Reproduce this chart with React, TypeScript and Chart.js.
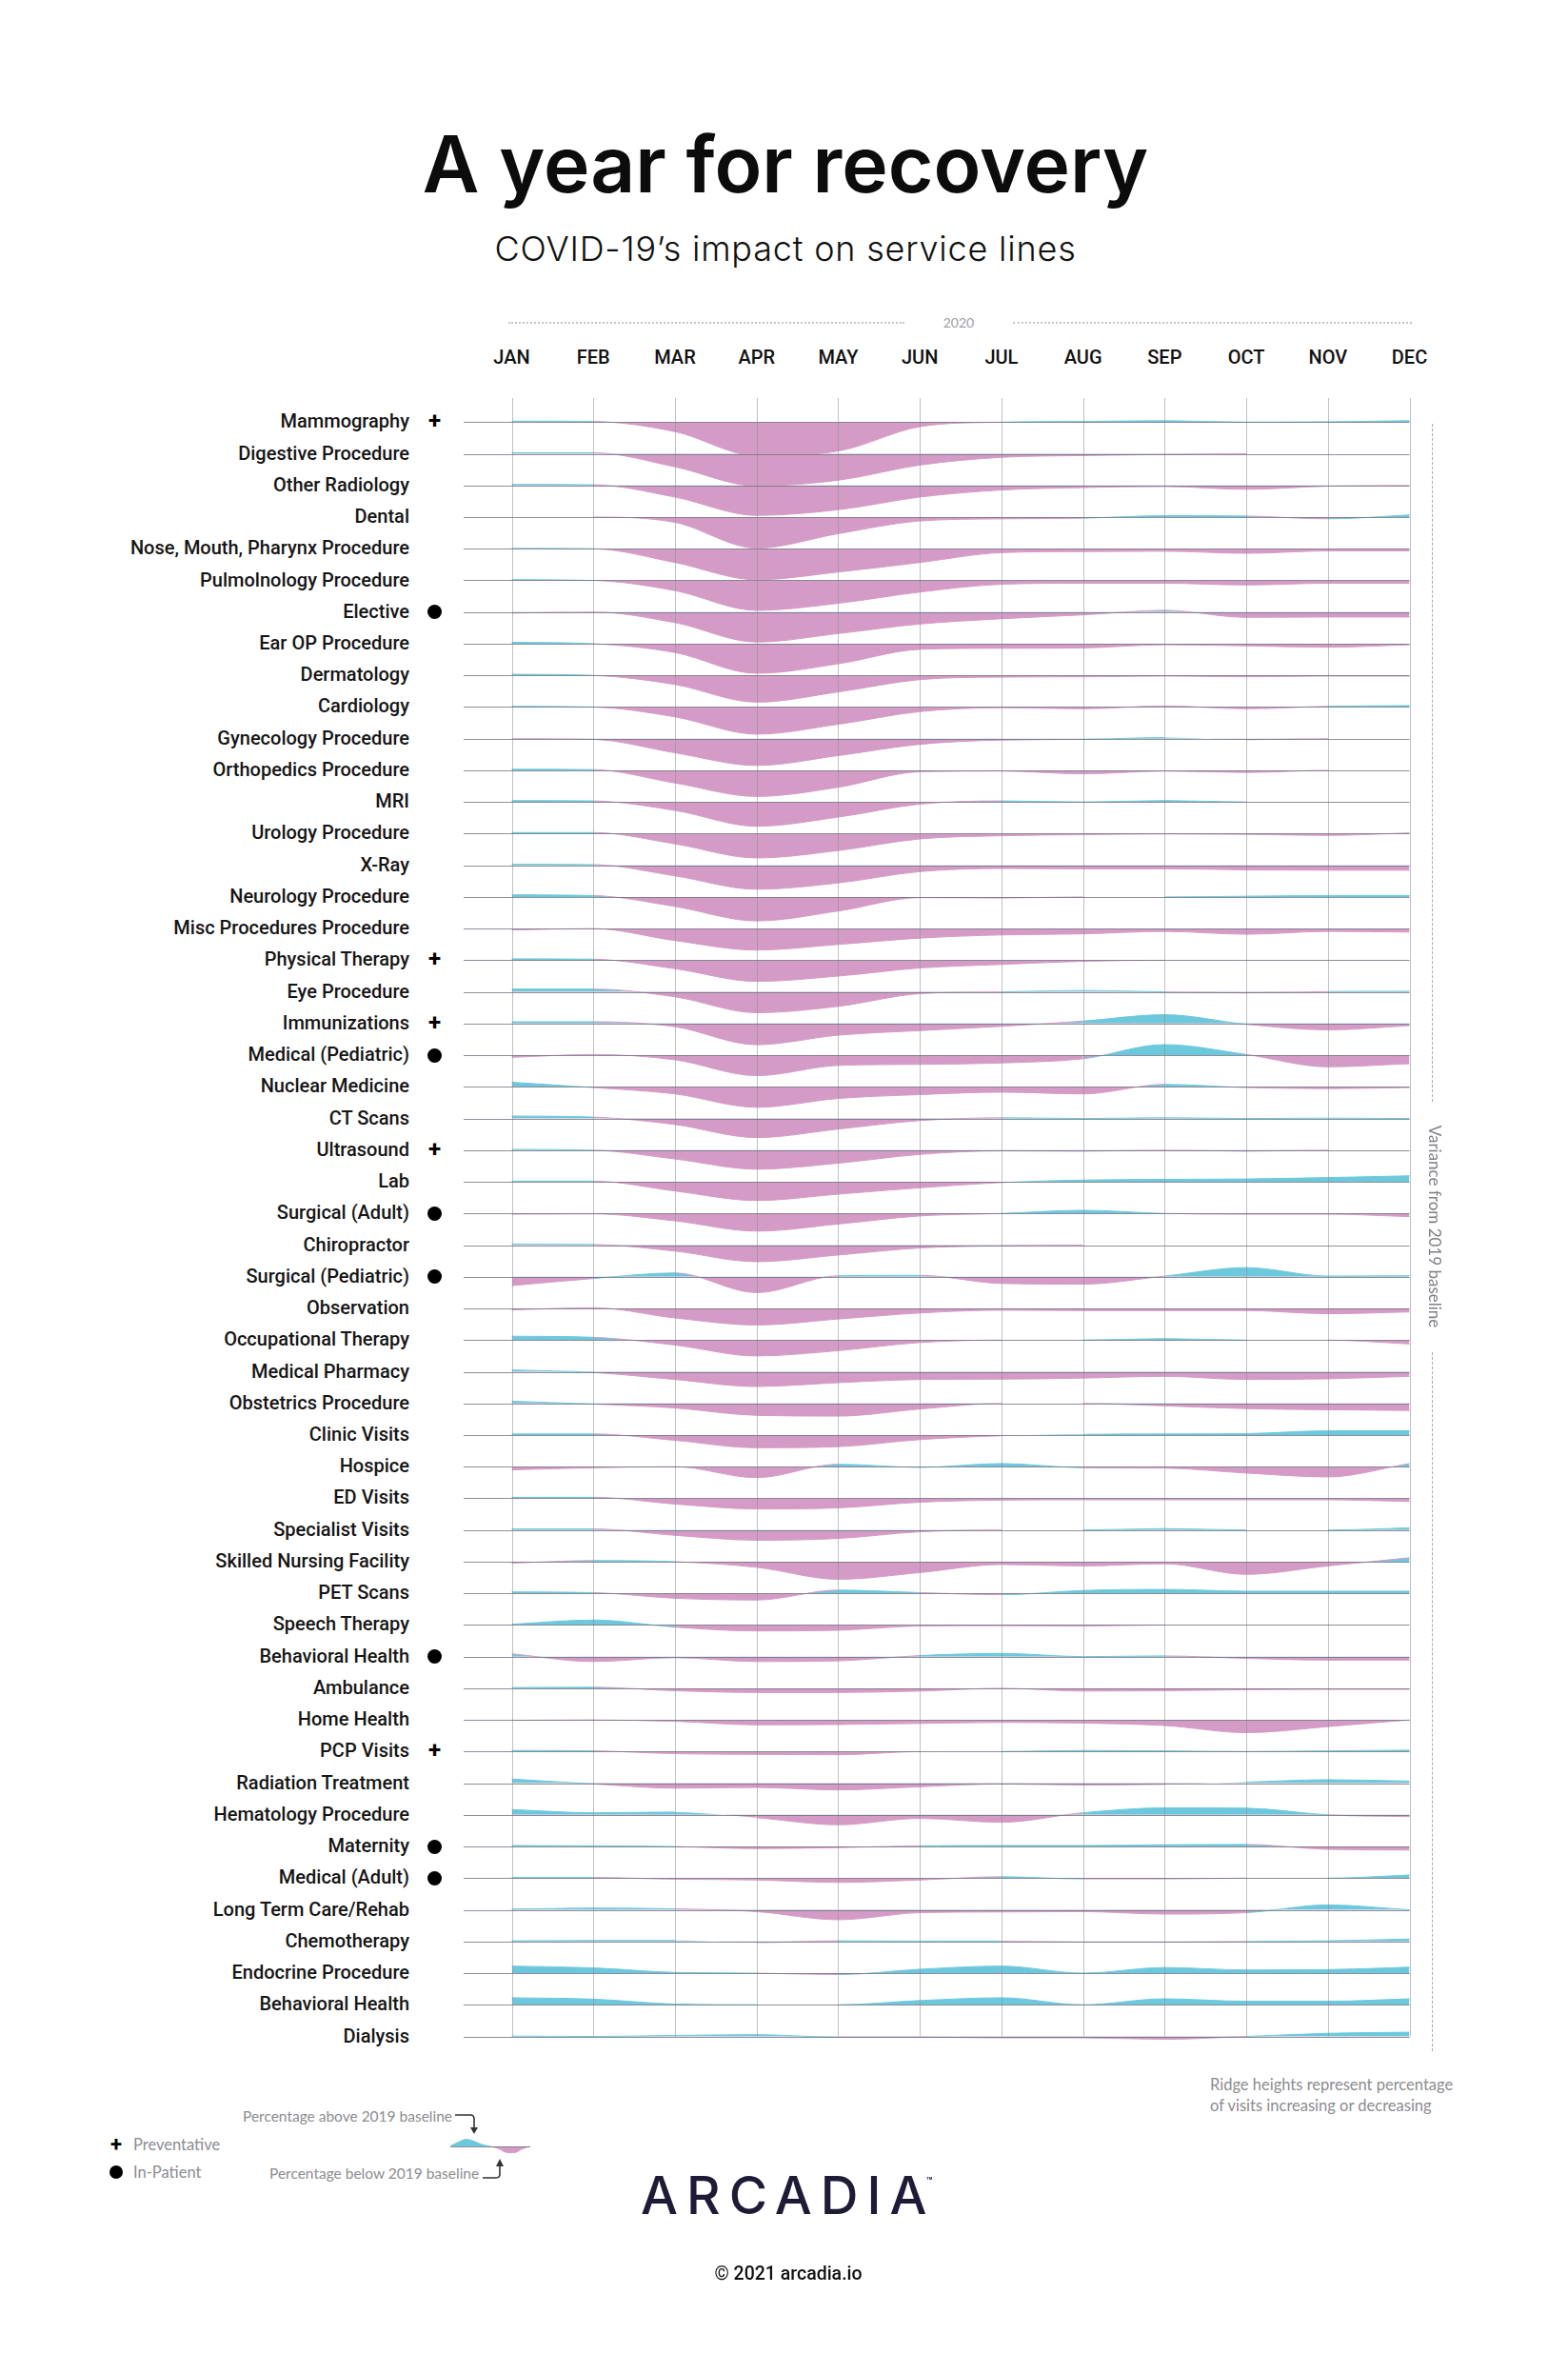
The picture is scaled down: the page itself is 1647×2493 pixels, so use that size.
import React, { useEffect, useRef } from 'react';
import { Chart, registerables } from 'chart.js';

Chart.register(...registerables);

// ---------- data ----------
const MONTHS = ['JAN', 'FEB', 'MAR', 'APR', 'MAY', 'JUN', 'JUL', 'AUG', 'SEP', 'OCT', 'NOV', 'DEC'];
const YEAR_LABEL = '2020';

const SERVICE_LINES = [
  'Mammography', 'Digestive Procedure', 'Other Radiology', 'Dental', 'Nose, Mouth, Pharynx Procedure',
  'Pulmolnology Procedure', 'Elective', 'Ear OP Procedure', 'Dermatology', 'Cardiology',
  'Gynecology Procedure', 'Orthopedics Procedure', 'MRI', 'Urology Procedure', 'X-Ray',
  'Neurology Procedure', 'Misc Procedures Procedure', 'Physical Therapy', 'Eye Procedure', 'Immunizations',
  'Medical (Pediatric)', 'Nuclear Medicine', 'CT Scans', 'Ultrasound', 'Lab',
  'Surgical (Adult)', 'Chiropractor', 'Surgical (Pediatric)', 'Observation', 'Occupational Therapy',
  'Medical Pharmacy', 'Obstetrics Procedure', 'Clinic Visits', 'Hospice', 'ED Visits',
  'Specialist Visits', 'Skilled Nursing Facility', 'PET Scans', 'Speech Therapy', 'Behavioral Health',
  'Ambulance', 'Home Health', 'PCP Visits', 'Radiation Treatment', 'Hematology Procedure',
  'Maternity', 'Medical (Adult)', 'Long Term Care/Rehab', 'Chemotherapy', 'Endocrine Procedure',
  'Behavioral Health', 'Dialysis',
];

// '+' = Preventative, 'dot' = In-Patient
const MARKERS = [
  '+', '', '', '', '', '', 'dot', '', '', '',
  '', '', '', '', '', '', '', '+', '', '+',
  'dot', '', '', '+', '', 'dot', '', 'dot', '', '',
  '', '', '', '', '', '', '', '', '', 'dot',
  '', '', '+', '', '', 'dot', 'dot', '', '', '',
  '', '',
];

// % variance from 2019 baseline, JAN..DEC 2020
const mammography = [3, 2, -27, -95, -82, -13, 0, 2, 4, 0, 1, 4];
const digestive = [3, 3, -37, -91, -75, -32, -10, -5, -2, 0, 0, 0];
const otherRadiology = [3, 2, -33, -85, -69, -33, -13, -6, -3, -11, -2, 0];
const dental = [0, 0, -15, -88, -47, -11, -5, -3, 4, 3, -5, 6];
const noseMouthPharynx = [1, 0, -39, -88, -66, -39, -11, -8, -7, -13, -6, -6];
const pulmonology = [2, 0, -29, -85, -65, -33, -11, -8, -8, -13, -8, -8];
const elective = [-3, 0, -30, -85, -61, -34, -19, -8, 5, -15, -14, -14];
const earOp = [4, 0, -25, -84, -57, -16, -13, -12, -3, -6, -10, -3];
const dermatology = [3, 0, -26, -76, -47, -12, -5, -4, -2, -4, -2, -2];
const cardiology = [2, 0, -28, -77, -49, -13, -2, -5, 3, -5, 2, 4];
const gynecology = [0, -2, -40, -76, -48, -16, -4, -2, 3, -3, 0, 0];
const orthopedics = [3, 2, -36, -74, -48, -4, -2, -10, -2, -6, 0, 0];
const mri = [4, 3, -24, -69, -43, -6, 3, 0, 4, 0, 0, 0];
const urology = [3, 3, -29, -69, -48, -15, -6, -3, -1, -2, -5, 2];
const xRay = [3, 2, -30, -68, -50, -18, -9, -10, -10, -13, -14, -14];
const neurology = [6, 4, -27, -68, -40, -2, -3, 0, 0, 2, 4, 4];
const miscProcedures = [-4, 0, -34, -61, -45, -27, -18, -15, -8, -16, -8, -10];
const physicalTherapy = [4, 3, -24, -60, -45, -22, -12, -3, 0, 0, 0, 0];
const eyeProcedure = [8, 8, -14, -59, -41, -5, 0, 4, 0, -3, 1, 2];
const immunizations = [5, 5, -9, -60, -33, -20, -8, 7, 25, -2, -18, -6];
const medicalPediatric = [-6, 2, -13, -58, -29, -26, -22, -10, 30, 2, -33, -24];
const nuclearMedicine = [13, -2, -20, -58, -33, -22, -15, -20, 7, -2, -5, -2];
const ctScans = [7, 4, -17, -54, -30, -6, 2, 0, 2, 0, 1, 0];
const ultrasound = [2, 0, -25, -54, -37, -12, -2, -3, 0, -3, 0, 0];
const lab = [2, 2, -26, -53, -35, -17, -2, 5, 7, 8, 12, 17];
const surgicalAdult = [-2, -1, -21, -50, -30, -7, 0, 9, 0, -2, -2, -9];
const chiropractor = [3, 2, -17, -47, -28, -8, -2, 0, 0, 0, 0, 0];
const surgicalPediatric = [-25, -5, 11, -45, 3, 4, -19, -21, 2, 26, 2, 3];
const observation = [-4, 2, -27, -47, -30, -13, -5, -6, -6, -6, -15, -10];
const occupationalTherapy = [11, 8, -14, -45, -30, -7, 0, 0, 4, 0, 0, -11];
const medicalPharmacy = [5, -2, -22, -42, -31, -22, -21, -18, -13, -22, -20, -13];
const obstetrics = [6, -2, -13, -34, -36, -16, 0, 0, -7, -15, -18, -20];
const clinicVisits = [3, 3, -15, -36, -33, -13, -2, 2, 3, 4, 12, 12];
const hospice = [-9, -3, 0, -31, 7, -2, 9, -3, -4, -18, -29, 9];
const edVisits = [3, 3, -16, -30, -27, -11, -5, -4, -4, -4, -4, -9];
const specialistVisits = [3, 3, -15, -29, -24, -5, 0, 0, 4, 0, 0, 6];
const skilledNursing = [-4, 3, 0, -16, -50, -31, -8, -12, -6, -36, -12, 11];
const petScans = [4, 2, -14, -19, 9, 2, -4, 8, 11, 6, 6, 6];
const speechTherapy = [2, 14, -6, -17, -15, -3, -2, -3, 0, 0, 0, 0];
const behavioralHealthInpatient = [8, -14, -3, -14, -12, 3, 9, 0, 2, -5, -10, -10];
const ambulance = [2, 3, -7, -12, -12, -8, 0, -8, -7, -4, -3, -3];
const homeHealth = [-1, 0, -4, -14, -13, -10, -7, -9, -16, -36, -19, 0];
const pcpVisits = [3, 2, -6, -8, -9, 0, 0, 3, 2, 0, 2, 4];
const radiationTreatment = [12, -2, -14, -12, -19, -10, -2, -5, -3, 3, 10, 6];
const hematology = [15, 6, 8, -8, -28, -10, -21, 6, 20, 19, 0, -5];
const maternity = [3, 2, 0, -6, -3, 2, 3, 3, 5, 6, -8, -10];
const medicalAdult = [2, 2, -3, -5, -12, -5, 4, -2, -2, 0, 0, 9];
const longTermCare = [2, 5, 3, -5, -28, -8, -6, -5, -12, -8, 14, 0];
const chemotherapy = [2, 3, 3, -3, 2, 1, 1, -2, -2, 0, 2, 7];
const endocrine = [20, 15, 2, 0, -4, 11, 20, 0, 16, 9, 10, 17];
const behavioralHealth = [20, 16, 2, 0, 0, 12, 20, 0, 17, 10, 10, 17];
const dialysis = [1, 0, 3, 5, -2, -2, -4, -4, -8, 0, 9, 12];

const ROW_VALUES = [
  mammography, digestive, otherRadiology, dental, noseMouthPharynx,
  pulmonology, elective, earOp, dermatology, cardiology,
  gynecology, orthopedics, mri, urology, xRay,
  neurology, miscProcedures, physicalTherapy, eyeProcedure, immunizations,
  medicalPediatric, nuclearMedicine, ctScans, ultrasound, lab,
  surgicalAdult, chiropractor, surgicalPediatric, observation, occupationalTherapy,
  medicalPharmacy, obstetrics, clinicVisits, hospice, edVisits,
  specialistVisits, skilledNursing, petScans, speechTherapy, behavioralHealthInpatient,
  ambulance, homeHealth, pcpVisits, radiationTreatment, hematology,
  maternity, medicalAdult, longTermCare, chemotherapy, endocrine,
  behavioralHealth, dialysis,
];

// legend sample ridge (above then below baseline)
const LEGEND_RIDGE = [1, 12, 20, 14, 5, 0, -6, -17, -18, -7, 0];

// ---------- layout ----------
const PAGE_W = 1647;
const PAGE_H = 2493;
const JAN_X = 537.5;
const MONTH_DX = 85.73;
const ROW0_Y = 443.3;
const ROW_DY = 33.24;
const CANVAS_LEFT = 470;
const CANVAS_TOP = 400;
const CANVAS_W = 1030;
const CANVAS_H = 1760;
const GRID_TOP_PX = 418;
const BASELINE_LEFT_PX = 487;
const PX_PER_PCT = 1 / 2.7;
const ROWS_PER_PCT = PX_PER_PCT / ROW_DY;

const PINK = '#d49bc6';
const CYAN = '#6cc8dc';
const BASE_LINE = 'rgba(115,115,128,0.8)';
const MONTH_LINE = 'rgba(140,140,152,0.55)';
const GREY_TEXT = '#8c8c90';

const ridgeDataset = (vals: number[], base: number, scale: number, label: string) => ({
  label,
  data: vals.map((v, m) => ({ x: m, y: base + v * scale })),
  fill: { target: { value: base }, above: CYAN, below: PINK },
  backgroundColor: PINK,
  borderWidth: 1,
  segment: {
    borderColor: (c: any) => {
      const a = c.p0.parsed.y + c.p1.parsed.y - 2 * base;
      return a > 1e-6 ? CYAN : a < -1e-6 ? PINK : 'rgba(0,0,0,0)';
    },
  },
  pointRadius: 0,
  cubicInterpolationMode: 'monotone' as const,
  clip: false as const,
});

function RidgeChart() {
  const ref = useRef<HTMLCanvasElement>(null);
  useEffect(() => {
    const canvas = ref.current;
    if (!canvas) return;
    const xMin = (CANVAS_LEFT - JAN_X) / MONTH_DX;
    const xMax = (CANVAS_LEFT + CANVAS_W - JAN_X) / MONTH_DX;
    const yMax = (ROW0_Y - CANVAS_TOP) / ROW_DY;
    const yMin = -(CANVAS_TOP + CANVAS_H - ROW0_Y) / ROW_DY;
    const gridTop = (ROW0_Y - GRID_TOP_PX) / ROW_DY;
    const baseStart = (BASELINE_LEFT_PX - JAN_X) / MONTH_DX;
    const last = SERVICE_LINES.length - 1;

    const gridPlugin = {
      id: 'ridgeGrid',
      afterDatasetsDraw(chart: any) {
        const { ctx, scales } = chart;
        const x = scales.x;
        const y = scales.y;
        ctx.save();
        ctx.lineWidth = 1;
        ctx.strokeStyle = MONTH_LINE;
        const top = y.getPixelForValue(gridTop);
        const bottom = y.getPixelForValue(-last);
        MONTHS.forEach((_, m) => {
          const px = Math.round(x.getPixelForValue(m)) + 0.5;
          ctx.beginPath();
          ctx.moveTo(px, top);
          ctx.lineTo(px, bottom);
          ctx.stroke();
        });
        ctx.strokeStyle = BASE_LINE;
        const left = x.getPixelForValue(baseStart);
        const right = x.getPixelForValue(MONTHS.length - 1);
        SERVICE_LINES.forEach((_, i) => {
          const py = Math.round(y.getPixelForValue(-i)) + 0.5;
          ctx.beginPath();
          ctx.moveTo(left, py);
          ctx.lineTo(right, py);
          ctx.stroke();
        });
        ctx.restore();
      },
    };

    const chart = new Chart(canvas, {
      type: 'line',
      data: {
        datasets: ROW_VALUES.map((vals, i) => ridgeDataset(vals, -i, ROWS_PER_PCT, SERVICE_LINES[i])) as any,
      },
      options: {
        animation: false,
        responsive: false,
        devicePixelRatio: 1,
        events: [],
        layout: { padding: 0 },
        plugins: { legend: { display: false }, tooltip: { enabled: false } },
        scales: {
          x: { type: 'linear', display: false, min: xMin, max: xMax },
          y: { type: 'linear', display: false, min: yMin, max: yMax },
        },
      },
      plugins: [gridPlugin],
    });
    return () => chart.destroy();
  }, []);
  return (
    <canvas
      ref={ref}
      width={CANVAS_W}
      height={CANVAS_H}
      style={{ position: 'absolute', left: CANVAS_LEFT, top: CANVAS_TOP, width: CANVAS_W, height: CANVAS_H }}
    />
  );
}

// legend sample ridge
const LG_LEFT = 468;
const LG_TOP = 2236;
const LG_W = 94;
const LG_H = 30;
const LG_X0 = 473;
const LG_X1 = 557;
const LG_BASE_Y = 2254;

function LegendRidge() {
  const ref = useRef<HTMLCanvasElement>(null);
  useEffect(() => {
    const canvas = ref.current;
    if (!canvas) return;
    const n = LEGEND_RIDGE.length - 1;
    const dx = (LG_X1 - LG_X0) / n;
    const xMin = (LG_LEFT - LG_X0) / dx;
    const xMax = (LG_LEFT + LG_W - LG_X0) / dx;
    const yMax = (LG_BASE_Y - LG_TOP) / PX_PER_PCT;
    const yMin = -(LG_TOP + LG_H - LG_BASE_Y) / PX_PER_PCT;
    const basePlugin = {
      id: 'legendBase',
      afterDatasetsDraw(chart: any) {
        const { ctx, scales } = chart;
        const py = Math.round(scales.y.getPixelForValue(0)) + 0.5;
        ctx.save();
        ctx.strokeStyle = BASE_LINE;
        ctx.lineWidth = 1;
        ctx.beginPath();
        ctx.moveTo(scales.x.getPixelForValue(0), py);
        ctx.lineTo(scales.x.getPixelForValue(n), py);
        ctx.stroke();
        ctx.restore();
      },
    };
    const chart = new Chart(canvas, {
      type: 'line',
      data: { datasets: [ridgeDataset(LEGEND_RIDGE, 0, 1, 'legend') as any] },
      options: {
        animation: false,
        responsive: false,
        devicePixelRatio: 1,
        events: [],
        layout: { padding: 0 },
        plugins: { legend: { display: false }, tooltip: { enabled: false } },
        scales: {
          x: { type: 'linear', display: false, min: xMin, max: xMax },
          y: { type: 'linear', display: false, min: yMin, max: yMax },
        },
      },
      plugins: [basePlugin],
    });
    return () => chart.destroy();
  }, []);
  return (
    <canvas
      ref={ref}
      width={LG_W}
      height={LG_H}
      style={{ position: 'absolute', left: LG_LEFT, top: LG_TOP, width: LG_W, height: LG_H }}
    />
  );
}

type TProps = {
  x: number;
  y: number;
  size: number;
  align?: 'left' | 'center' | 'right';
  weight?: number;
  color?: string;
  family?: string;
  spacing?: number;
  children: React.ReactNode;
};

function T({ x, y, size, align = 'left', weight = 400, color = '#111', family = 'Roboto', spacing = 0, children }: TProps) {
  const h = Math.round(size * 1.4);
  const style: React.CSSProperties = {
    position: 'absolute',
    top: y - h / 2,
    height: h,
    lineHeight: `${h}px`,
    fontSize: size,
    fontWeight: weight,
    fontFamily: `${family}, sans-serif`,
    color,
    whiteSpace: 'nowrap',
    letterSpacing: spacing,
  };
  if (align === 'left') style.left = x;
  else if (align === 'right') {
    style.right = PAGE_W - x;
    style.textAlign = 'right';
  } else {
    style.left = x - 1000;
    style.width = 2000;
    style.textAlign = 'center';
  }
  return <div style={style}>{children}</div>;
}

function Dot({ x, y, d }: { x: number; y: number; d: number }) {
  return (
    <div
      style={{
        position: 'absolute',
        left: x - d / 2,
        top: y - d / 2,
        width: d,
        height: d,
        borderRadius: '50%',
        background: '#000',
      }}
    />
  );
}

export default function App() {
  return (
    <div
      style={{
        position: 'absolute',
        left: 0,
        top: 0,
        width: PAGE_W,
        height: PAGE_H,
        background: '#fff',
        overflow: 'hidden',
      }}
    >
      <T x={825} y={172} size={82} align="center" weight={600} family="Inter" color="#0c0c0c">
        A year for recovery
      </T>
      <T x={825} y={261} size={36} align="center" weight={300} family="Inter" color="#111" spacing={0.8}>
        COVID-19’s impact on service lines
      </T>

      {/* year header */}
      <div style={{ position: 'absolute', left: 534, top: 338, width: 416, borderTop: '2px dotted #c6c6ca' }} />
      <div style={{ position: 'absolute', left: 1064, top: 338, width: 419, borderTop: '2px dotted #c6c6ca' }} />
      <T x={1007} y={339} size={14} align="center" family="Lato" color="#a0a0a4">
        {YEAR_LABEL}
      </T>

      {MONTHS.map((m, i) => (
        <T key={m} x={JAN_X + i * MONTH_DX} y={375} size={20} align="center" weight={500} color="#111">
          {m}
        </T>
      ))}

      {SERVICE_LINES.map((name, i) => {
        const y = ROW0_Y + i * ROW_DY;
        return (
          <React.Fragment key={i}>
            <T x={430} y={y - 1} size={20} align="right" weight={500} color="#151515">
              {name}
            </T>
            {MARKERS[i] === '+' && (
              <T x={456.5} y={y - 1} size={24} align="center" weight={700} color="#000">
                +
              </T>
            )}
            {MARKERS[i] === 'dot' && <Dot x={456} y={y} d={15} />}
          </React.Fragment>
        );
      })}

      <RidgeChart />

      {/* right side variance label */}
      <div style={{ position: 'absolute', left: 1504, top: 445, height: 712, borderLeft: '1px dashed #a8a8ae' }} />
      <div style={{ position: 'absolute', left: 1504, top: 1420, height: 734, borderLeft: '1px dashed #a8a8ae' }} />
      <div
        style={{
          position: 'absolute',
          left: 1507 - 150,
          top: 1288 - 12,
          width: 300,
          height: 24,
          lineHeight: '24px',
          textAlign: 'center',
          fontFamily: 'Lato, sans-serif',
          fontSize: 17,
          color: '#7f7f87',
          transform: 'rotate(90deg)',
          whiteSpace: 'nowrap',
        }}
      >
        Variance from 2019 baseline
      </div>

      {/* bottom right note */}
      <T x={1271} y={2189} size={16.5} family="Lato" color={GREY_TEXT}>
        Ridge heights represent percentage
      </T>
      <T x={1271} y={2211} size={16.5} family="Lato" color={GREY_TEXT}>
        of visits increasing or decreasing
      </T>

      {/* legend */}
      <T x={122} y={2251} size={22} align="center" weight={700} color="#000">
        +
      </T>
      <T x={140} y={2252} size={16.5} family="Lato" color={GREY_TEXT}>
        Preventative
      </T>
      <Dot x={122} y={2281} d={14} />
      <T x={140} y={2281} size={16.5} family="Lato" color={GREY_TEXT}>
        In-Patient
      </T>
      <T x={255} y={2222} size={15.5} family="Lato" color={GREY_TEXT}>
        Percentage above 2019 baseline
      </T>
      <T x={283} y={2282} size={15.5} family="Lato" color={GREY_TEXT}>
        Percentage below 2019 baseline
      </T>
      <svg
        width={PAGE_W}
        height={PAGE_H}
        style={{ position: 'absolute', left: 0, top: 0, pointerEvents: 'none' }}
      >
        <path d="M 478 2221 H 494 Q 498 2221 498 2225 V 2235" fill="none" stroke="#333" strokeWidth={1.6} />
        <polygon points="494,2234 502,2234 498,2241" fill="#333" />
        <path d="M 507 2287 H 521 Q 525 2287 525 2283 V 2274" fill="none" stroke="#333" strokeWidth={1.6} />
        <polygon points="521,2275 529,2275 525,2267" fill="#333" />
      </svg>
      <LegendRidge />

      {/* logo + copyright */}
      <T x={673} y={2305} size={55} weight={500} family="Inter" color="#1d1b35" spacing={9}>
        ARCADIA
      </T>
      <T x={973} y={2290} size={10} weight={700} family="Inter" color="#1d1b35">
        ™
      </T>
      <T x={828} y={2387} size={19.5} align="center" weight={500} color="#111">
        © 2021 arcadia.io
      </T>
    </div>
  );
}
